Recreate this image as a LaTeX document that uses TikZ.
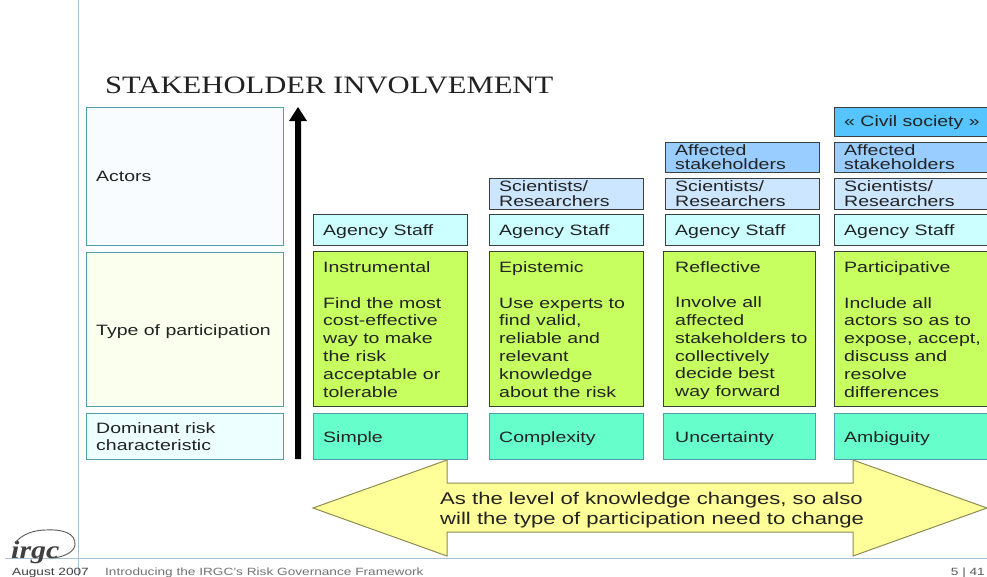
\documentclass[tikz,border=0pt]{standalone}
\usepackage{fontspec}
\setmainfont[FakeStretch=1.3]{Liberation Sans}
\newfontfamily\serifttl[FakeStretch=1.225]{Liberation Serif}
\newfontfamily\logofont[FakeStretch=1.2]{Liberation Serif}
\usetikzlibrary{calc}
\definecolor{edgeT}{HTML}{4FA0A8}
\definecolor{edgeD}{HTML}{3A3F42}
\definecolor{lineB}{HTML}{A9BFD2}
\definecolor{cAct}{HTML}{F8FCFF}
\definecolor{cTyp}{HTML}{FBFFEE}
\definecolor{cDom}{HTML}{EEFFFF}
\definecolor{cAg}{HTML}{CCFFFF}
\definecolor{cSci}{HTML}{CCE6FF}
\definecolor{cAff}{HTML}{99CCFF}
\definecolor{cCiv}{HTML}{55C4FF}
\definecolor{cGr}{HTML}{C8FF60}
\definecolor{cTe}{HTML}{66FFCC}
\definecolor{cYe}{HTML}{FFFF99}
\definecolor{txt}{HTML}{222222}
\newcommand{\curlead}{15}
\newcommand{\curshift}{-2pt}
\tikzset{x=1pt,y=-1pt,
 bx/.style={draw=edgeD,line width=1.1pt,rectangle,inner xsep=0pt,inner ysep=0pt,anchor=north west},
 lab/.style={anchor=west,inner sep=0pt,align=left,yshift=\curshift,font=\fontsize{15}{\curlead}\selectfont,text=txt},
}
% \boxat{name}{x0}{y0}{x1}{y1}{colour}{edge}{textx}{text}
\newcommand{\boxat}[9]{%
 \pgfmathsetmacro{\bw}{#4-#2}\pgfmathsetmacro{\bh}{#5-#3}%
 \node[bx,fill=#6,draw=#7,minimum width=\bw pt,minimum height=\bh pt] (#1) at (#2,#3) {};
 \node[lab] (#1t) at ($(#2+#8,0)+(0,#3/2+#5/2)$) {#9};
}
\begin{document}
\begin{tikzpicture}
\useasboundingbox (0,0) rectangle (987,576);
\fill[white] (0,0) rectangle (987,576);
\coordinate (vt) at (78,0); \coordinate (vb) at (78,576);
\coordinate (hl) at (5,558); \coordinate (hr) at (987,558);
\draw[lineB,line width=0.8pt] (vt) -- (vb);
\draw[lineB,line width=0.8pt] (hl) -- (hr);
\node[anchor=base west,inner sep=0pt,font=\serifttl\fontsize{25}{25}\selectfont,text=txt] (title) at (105,93) {STAKEHOLDER INVOLVEMENT};
% left column
\renewcommand{\curshift}{0pt}
\boxat{actors}{86}{107}{283}{245}{cAct}{edgeT}{10}{Actors}
\renewcommand{\curshift}{-2.5pt}
\boxat{type}{86}{252}{283}{406}{cTyp}{edgeT}{10}{Type of participation}
\renewcommand{\curlead}{17.5}
\renewcommand{\curshift}{-0.5pt}
\boxat{dom}{86}{413}{283}{459}{cDom}{edgeT}{10}{Dominant risk\\characteristic}
% arrow up
\fill[black] (295,459) -- (295,121) -- (289,121) -- (298,107) -- (307,121) -- (301,121) -- (301,459) -- cycle;
% agency
\renewcommand{\curlead}{15}
\renewcommand{\curshift}{-2.5pt}
\boxat{ag1}{313}{214}{467}{245}{cAg}{edgeD}{10}{Agency Staff}
\boxat{ag2}{489}{214}{643}{245}{cAg}{edgeD}{10}{Agency Staff}
\boxat{ag3}{665}{214}{819}{245}{cAg}{edgeD}{10}{Agency Staff}
\boxat{ag4}{834}{214}{988}{245}{cAg}{edgeD}{10}{Agency Staff}
\renewcommand{\curlead}{15.5}
\renewcommand{\curshift}{0pt}
\boxat{sc2}{489}{178}{643}{209}{cSci}{edgeD}{10}{Scientists/\\Researchers}
\boxat{sc3}{665}{178}{819}{209}{cSci}{edgeD}{10}{Scientists/\\Researchers}
\boxat{sc4}{834}{178}{988}{209}{cSci}{edgeD}{10}{Scientists/\\Researchers}
\renewcommand{\curlead}{14.5}
\boxat{af3}{665}{142}{819}{172}{cAff}{edgeD}{10}{Affected\\stakeholders}
\boxat{af4}{834}{142}{988}{172}{cAff}{edgeD}{10}{Affected\\stakeholders}
\renewcommand{\curshift}{-1pt}
\boxat{civ}{834}{107}{988}{136}{cCiv}{edgeD}{10}{« Civil society »}
% green
\renewcommand{\curlead}{17.8}
\renewcommand{\curshift}{-1pt}
\boxat{g1}{313}{251}{467}{406}{cGr}{edgeD}{10}{Instrumental\\[17.8pt]Find the most\\cost-effective\\way to make\\the risk\\acceptable or\\tolerable}
\boxat{g2}{489}{251}{643}{406}{cGr}{edgeD}{10}{Epistemic\\[17.8pt]Use experts to\\find valid,\\reliable and\\relevant\\knowledge\\about the risk}
\boxat{g4}{834}{251}{988}{406}{cGr}{edgeD}{10}{Participative\\[17.8pt]Include all\\actors so as to\\expose, accept,\\discuss and\\resolve\\differences}
\renewcommand{\curshift}{-2pt}
\boxat{g3}{663}{251}{815}{406}{cGr}{edgeD}{12}{Reflective\\[17.8pt]Involve all\\affected\\stakeholders to\\collectively\\decide best\\way forward}
% teal
\renewcommand{\curlead}{15}
\renewcommand{\curshift}{-2.5pt}
\boxat{t1}{313}{413}{467}{459}{cTe}{edgeT}{10}{Simple}
\boxat{t2}{489}{413}{643}{459}{cTe}{edgeT}{10}{Complexity}
\boxat{t3}{663}{413}{815}{459}{cTe}{edgeT}{12}{Uncertainty}
\boxat{t4}{834}{413}{988}{459}{cTe}{edgeT}{10}{Ambiguity}
% big arrow
\draw[draw=black!45!cYe,fill=cYe,line width=1pt] (313,508) -- (447,460) -- (447,483) -- (853,483) -- (853,460) -- (987,508) -- (853,556) -- (853,532) -- (447,532) -- (447,556) -- cycle;
\node[anchor=west,inner sep=0pt,align=left,text=txt,font=\fontsize{17}{20.5}\selectfont] (msg) at (440,510) {As the level of knowledge changes, so also\\will the type of participation need to change};
% footer
\node[anchor=base west,inner sep=0pt,font=\fontsize{10.5}{10.5}\selectfont,text=black!75] (date) at (12,575) {August 2007};
\node[anchor=base west,inner sep=0pt,font=\fontsize{10.5}{10.5}\selectfont,text=black!55] (ftitle) at (105,575) {Introducing the IRGC's Risk Governance Framework};
\node[anchor=base east,inner sep=0pt,font=\fontsize{10.5}{10.5}\selectfont,text=black!65] (pg) at (985,575) {5 | 41};
% logo
\node[anchor=base west,inner sep=0pt,font=\logofont\itshape\bfseries\fontsize{25}{25}\selectfont,text=black!75] (logo) at (11,558) {irgc};
\draw[black!65,line width=0.9pt] (15,543) .. controls (22,534) and (34,530) .. (46,530) .. controls (62,529) and (76,533) .. (75,545) .. controls (74,552) and (64,557) .. (53,558);
\end{tikzpicture}
\end{document}
